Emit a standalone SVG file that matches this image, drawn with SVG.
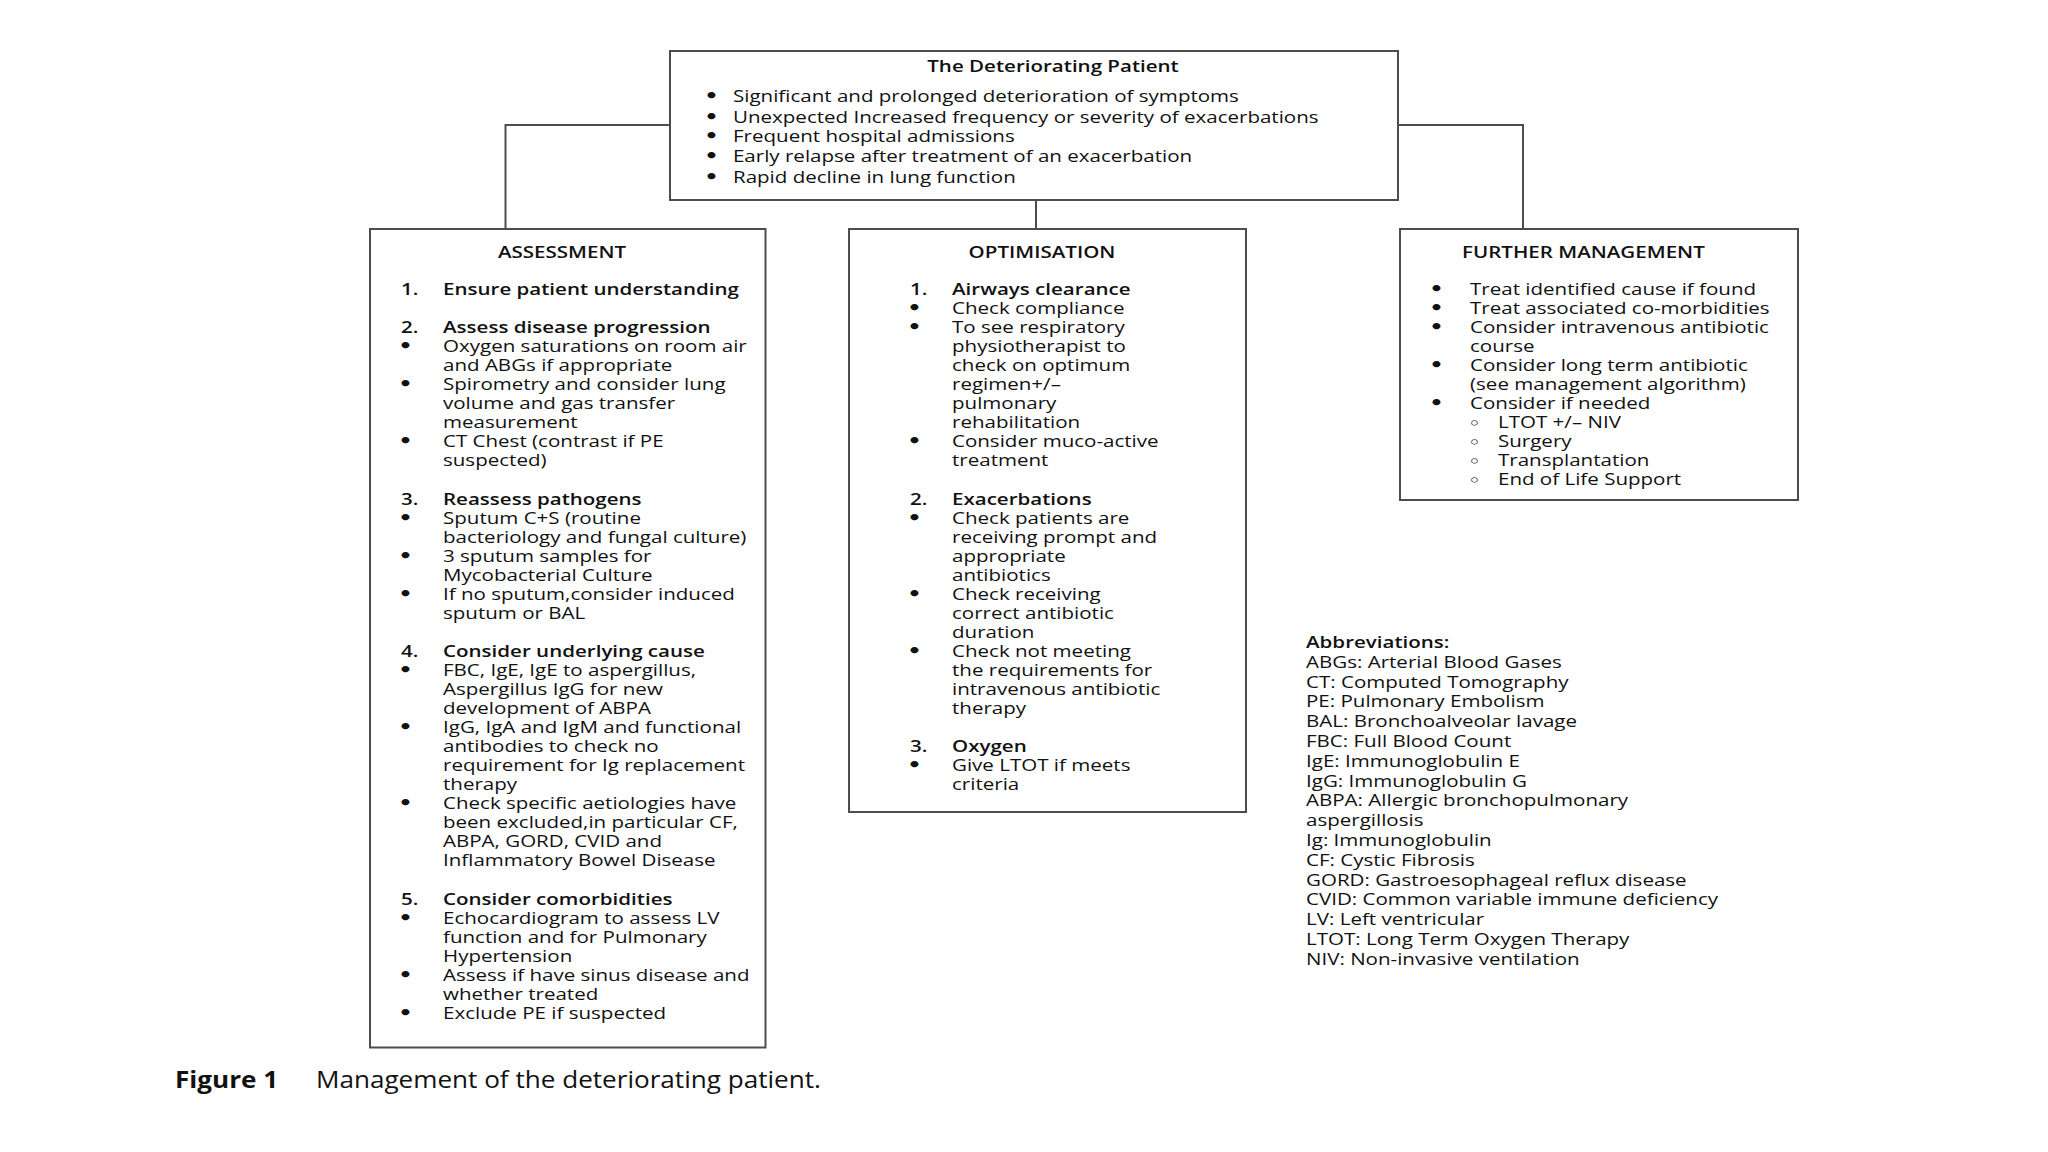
<svg xmlns="http://www.w3.org/2000/svg" width="2048" height="1152" viewBox="0 0 2048 1152">
<style>
.t{font-family:"Open Sans","Noto Sans","DejaVu Sans",sans-serif;font-size:15.5px;fill:#111}
.b{font-weight:600}
.u{font-family:"DejaVu Sans",sans-serif;font-size:17px;font-weight:700;fill:#111}
.s{font-family:"DejaVu Sans",sans-serif;font-size:14px;font-weight:700;fill:#111}
.c{font-family:"Open Sans","Noto Sans",sans-serif;font-size:23px;fill:#111}
.cb{font-weight:700}
.box{fill:#fff;stroke:#4d4d4d;stroke-width:2}
.conn{fill:none;stroke:#4d4d4d;stroke-width:2}
</style>
<rect width="2048" height="1152" fill="#fff"/>
<g id="connectors">
<path class="conn" d="M670,125 H505.5 V229"/>
<path class="conn" d="M1398,125 H1523 V229"/>
<path class="conn" d="M1036,200 V229"/>
</g>
<g id="deteriorating">
<rect class="box" x="670" y="51" width="728" height="149"/>
<g transform="translate(1053,0) scale(1.325,1)"><text class="t b" x="0" y="72" text-anchor="middle">The Deteriorating Patient</text></g>
<g transform="translate(707,0) scale(1.325,1)">
<text class="u" x="-2" y="102.5">•</text><text class="t" x="19.6" y="102.5">Significant and prolonged deterioration of symptoms</text>
<text class="u" x="-2" y="123">•</text><text class="t" x="19.6" y="123">Unexpected Increased frequency or severity of exacerbations</text>
<text class="u" x="-2" y="142.5">•</text><text class="t" x="19.6" y="142.5">Frequent hospital admissions</text>
<text class="u" x="-2" y="162.5">•</text><text class="t" x="19.6" y="162.5">Early relapse after treatment of an exacerbation</text>
<text class="u" x="-2" y="183">•</text><text class="t" x="19.6" y="183">Rapid decline in lung function</text>
</g>
</g>
<g id="assessment">
<rect class="box" x="370" y="229" width="395.5" height="818.5"/>
<g transform="translate(562,0) scale(1.325,1)"><text class="t b" x="0" y="258.5" text-anchor="middle">ASSESSMENT</text></g>
<g transform="translate(401,0) scale(1.325,1)">
<text class="t b" x="0" y="295">1.</text><text class="t b" x="31.7" y="295">Ensure patient understanding</text>
<text class="t b" x="0" y="333.1">2.</text><text class="t b" x="31.7" y="333.1">Assess  disease progression</text>
<text class="u" x="-2" y="352.2">•</text><text class="t" x="31.7" y="352.2">Oxygen saturations on room air</text>
<text class="t" x="31.7" y="371.2">and ABGs if appropriate</text>
<text class="u" x="-2" y="390.3">•</text><text class="t" x="31.7" y="390.3">Spirometry and consider lung</text>
<text class="t" x="31.7" y="409.3">volume and gas transfer</text>
<text class="t" x="31.7" y="428.4">measurement</text>
<text class="u" x="-2" y="447.4">•</text><text class="t" x="31.7" y="447.4">CT Chest (contrast if PE</text>
<text class="t" x="31.7" y="466.5">suspected)</text>
<text class="t b" x="0" y="504.6">3.</text><text class="t b" x="31.7" y="504.6">Reassess pathogens</text>
<text class="u" x="-2" y="523.6">•</text><text class="t" x="31.7" y="523.6">Sputum C+S (routine</text>
<text class="t" x="31.7" y="542.7">bacteriology and fungal culture)</text>
<text class="u" x="-2" y="561.7">•</text><text class="t" x="31.7" y="561.7">3 sputum samples for</text>
<text class="t" x="31.7" y="580.8">Mycobacterial Culture</text>
<text class="u" x="-2" y="599.8">•</text><text class="t" x="31.7" y="599.8">If no sputum,consider induced</text>
<text class="t" x="31.7" y="618.9">sputum or BAL</text>
<text class="t b" x="0" y="657">4.</text><text class="t b" x="31.7" y="657">Consider underlying cause</text>
<text class="u" x="-2" y="676">•</text><text class="t" x="31.7" y="676">FBC, IgE, IgE to aspergillus,</text>
<text class="t" x="31.7" y="695.1">Aspergillus IgG for new</text>
<text class="t" x="31.7" y="714.1">development of ABPA</text>
<text class="u" x="-2" y="733.2">•</text><text class="t" x="31.7" y="733.2">IgG, IgA and IgM and functional</text>
<text class="t" x="31.7" y="752.2">antibodies to check no</text>
<text class="t" x="31.7" y="771.3">requirement  for Ig replacement</text>
<text class="t" x="31.7" y="790.3">therapy</text>
<text class="u" x="-2" y="809.4">•</text><text class="t" x="31.7" y="809.4">Check specific aetiologies have</text>
<text class="t" x="31.7" y="828.4">been excluded,in particular CF,</text>
<text class="t" x="31.7" y="847.5">ABPA, GORD, CVID and</text>
<text class="t" x="31.7" y="866.5">Inflammatory Bowel Disease</text>
<text class="t b" x="0" y="904.6">5.</text><text class="t b" x="31.7" y="904.6">Consider comorbidities</text>
<text class="u" x="-2" y="923.7">•</text><text class="t" x="31.7" y="923.7">Echocardiogram to assess LV</text>
<text class="t" x="31.7" y="942.7">function and for Pulmonary</text>
<text class="t" x="31.7" y="961.8">Hypertension</text>
<text class="u" x="-2" y="980.8">•</text><text class="t" x="31.7" y="980.8">Assess if have sinus disease and</text>
<text class="t" x="31.7" y="999.9">whether treated</text>
<text class="u" x="-2" y="1018.9">•</text><text class="t" x="31.7" y="1018.9">Exclude PE if suspected</text>
</g>
</g>
<g id="optimisation">
<rect class="box" x="849" y="229" width="397" height="583"/>
<g transform="translate(1042,0) scale(1.325,1)"><text class="t b" x="0" y="258.5" text-anchor="middle">OPTIMISATION</text></g>
<g transform="translate(910,0) scale(1.325,1)">
<text class="t b" x="0" y="295">1.</text><text class="t b" x="31.7" y="295">Airways clearance</text>
<text class="u" x="-2" y="314.1">•</text><text class="t" x="31.7" y="314.1">Check compliance</text>
<text class="u" x="-2" y="333.1">•</text><text class="t" x="31.7" y="333.1">To see respiratory</text>
<text class="t" x="31.7" y="352.2">physiotherapist to</text>
<text class="t" x="31.7" y="371.2">check on optimum</text>
<text class="t" x="31.7" y="390.3">regimen+/–</text>
<text class="t" x="31.7" y="409.3">pulmonary</text>
<text class="t" x="31.7" y="428.4">rehabilitation</text>
<text class="u" x="-2" y="447.4">•</text><text class="t" x="31.7" y="447.4">Consider muco-active</text>
<text class="t" x="31.7" y="466.5">treatment</text>
<text class="t b" x="0" y="504.6">2.</text><text class="t b" x="31.7" y="504.6">Exacerbations</text>
<text class="u" x="-2" y="523.6">•</text><text class="t" x="31.7" y="523.6">Check patients are</text>
<text class="t" x="31.7" y="542.7">receiving prompt and</text>
<text class="t" x="31.7" y="561.7">appropriate</text>
<text class="t" x="31.7" y="580.8">antibiotics</text>
<text class="u" x="-2" y="599.8">•</text><text class="t" x="31.7" y="599.8">Check receiving</text>
<text class="t" x="31.7" y="618.9">correct antibiotic</text>
<text class="t" x="31.7" y="637.9">duration</text>
<text class="u" x="-2" y="657">•</text><text class="t" x="31.7" y="657">Check not meeting</text>
<text class="t" x="31.7" y="676">the requirements for</text>
<text class="t" x="31.7" y="695.1">intravenous antibiotic</text>
<text class="t" x="31.7" y="714.1">therapy</text>
<text class="t b" x="0" y="752.2">3.</text><text class="t b" x="31.7" y="752.2">Oxygen</text>
<text class="u" x="-2" y="771.3">•</text><text class="t" x="31.7" y="771.3">Give LTOT if meets</text>
<text class="t" x="31.7" y="790.3">criteria</text>
</g>
</g>
<g id="further-management">
<rect class="box" x="1400" y="229" width="398" height="271"/>
<g transform="translate(1462,0) scale(1.325,1)"><text class="t b" x="0" y="258.5">FURTHER MANAGEMENT</text></g>
<g transform="translate(1432,0) scale(1.325,1)">
<text class="u" x="-2" y="295">•</text><text class="t" x="28.7" y="295">Treat identified  cause if found</text>
<text class="u" x="-2" y="314.1">•</text><text class="t" x="28.7" y="314.1">Treat associated co-morbidities</text>
<text class="u" x="-2" y="333.1">•</text><text class="t" x="28.7" y="333.1">Consider intravenous antibiotic</text>
<text class="t" x="28.7" y="352.2">course</text>
<text class="u" x="-2" y="371.2">•</text><text class="t" x="28.7" y="371.2">Consider long term antibiotic</text>
<text class="t" x="28.7" y="390.3">(see management algorithm)</text>
<text class="u" x="-2" y="409.3">•</text><text class="t" x="28.7" y="409.3">Consider if needed</text>
<text class="s" x="27.5" y="428.4">◦</text><text class="t" x="49.8" y="428.4">LTOT +/– NIV</text>
<text class="s" x="27.5" y="447.4">◦</text><text class="t" x="49.8" y="447.4">Surgery</text>
<text class="s" x="27.5" y="466.5">◦</text><text class="t" x="49.8" y="466.5">Transplantation</text>
<text class="s" x="27.5" y="485.5">◦</text><text class="t" x="49.8" y="485.5">End of Life Support</text>
</g>
</g>
<g id="abbreviations" transform="translate(1306,0) scale(1.325,1)">
<text class="t b" x="0" y="648">Abbreviations:</text>
<text class="t" x="0" y="667.8">ABGs: Arterial Blood Gases</text>
<text class="t" x="0" y="687.6">CT: Computed Tomography</text>
<text class="t" x="0" y="707.4">PE: Pulmonary Embolism</text>
<text class="t" x="0" y="727.2">BAL: Bronchoalveolar lavage</text>
<text class="t" x="0" y="747">FBC: Full Blood Count</text>
<text class="t" x="0" y="766.8">IgE: Immunoglobulin E</text>
<text class="t" x="0" y="786.6">IgG: Immunoglobulin G</text>
<text class="t" x="0" y="806.4">ABPA: Allergic bronchopulmonary</text>
<text class="t" x="0" y="826.2">aspergillosis</text>
<text class="t" x="0" y="846">Ig: Immunoglobulin</text>
<text class="t" x="0" y="865.8">CF: Cystic Fibrosis</text>
<text class="t" x="0" y="885.6">GORD: Gastroesophageal reflux disease</text>
<text class="t" x="0" y="905.4">CVID: Common variable immune deficiency</text>
<text class="t" x="0" y="925.2">LV: Left ventricular</text>
<text class="t" x="0" y="945">LTOT: Long Term Oxygen Therapy</text>
<text class="t" x="0" y="964.8">NIV: Non-invasive ventilation</text>
</g>
<g id="caption" transform="translate(175,0) scale(1.135,1)">
<text class="c cb" x="0" y="1088">Figure 1</text>
<text class="c" x="124.2" y="1088">Management of the deteriorating patient.</text>
</g>
</svg>
